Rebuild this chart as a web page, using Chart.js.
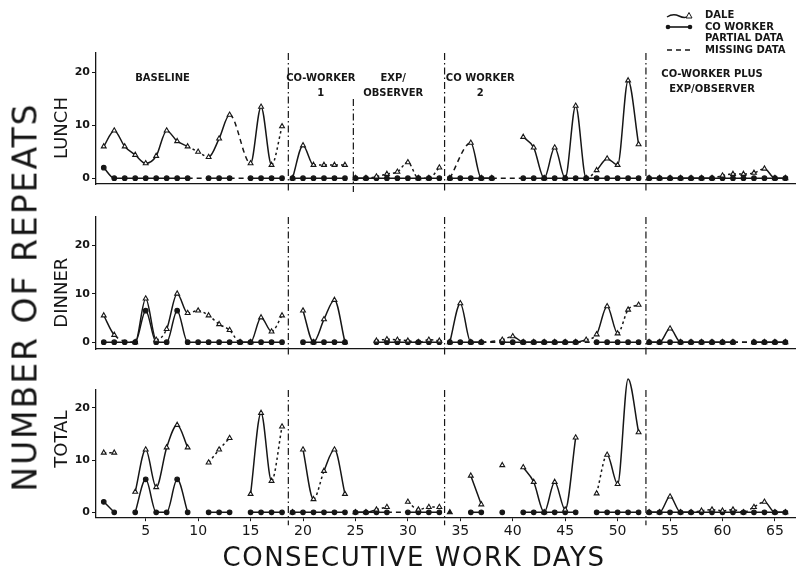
<!DOCTYPE html>
<html>
<head>
<meta charset="utf-8">
<script src="https://cdn.jsdelivr.net/npm/chart.js@4.4.1/dist/chart.umd.min.js"></script>
<style>
  body { margin: 0; background: #fff; }
  #wrap { position: relative; width: 801px; height: 572px; overflow: hidden; font-family: "DejaVu Sans", sans-serif; color: #161616; }
  .panel { position: absolute; left: 0; width: 801px; }
  #ytitle { position: absolute; left: 25px; top: 297px; transform: translate(-50%, -50%) rotate(-90deg); font-size: 33px; letter-spacing: 2px; white-space: nowrap; }
  #xtitle { position: absolute; left: 414px; top: 557px; transform: translate(-50%, -50%); font-size: 26px; letter-spacing: 1.5px; white-space: nowrap; }
  #legend { position: absolute; left: 665px; top: 9px; font-size: 10px; font-weight: bold; line-height: 11.7px; }
  #legend .row { display: flex; align-items: center; height: 11.7px; }
  #legend svg { width: 28px; height: 10px; margin-right: 12px; }
</style>
</head>
<body>
<div id="wrap">
  <div class="panel" style="top:0"><canvas id="lunch" width="801" height="200"></canvas></div>
  <div class="panel" style="top:200px"><canvas id="dinner" width="801" height="170"></canvas></div>
  <div class="panel" style="top:370px"><canvas id="total" width="801" height="202"></canvas></div>
  <div id="ytitle">NUMBER OF REPEATS</div>
  <div id="xtitle">CONSECUTIVE WORK DAYS</div>
  <div id="legend">
    <div class="row"><svg viewBox="0 0 28 10"><path d="M2 7 Q8 3 14 6 T24 6" fill="none" stroke="#161616" stroke-width="1.4"/><polygon points="24,2.5 27,8 21,8" fill="#fff" stroke="#161616" stroke-width="1"/></svg>DALE</div>
    <div class="row"><svg viewBox="0 0 28 10"><line x1="3" y1="5" x2="25" y2="5" stroke="#161616" stroke-width="1.6"/><circle cx="3" cy="5" r="2.3" fill="#161616"/><circle cx="25" cy="5" r="2.3" fill="#161616"/></svg>CO WORKER</div>
    <div class="row"><svg viewBox="0 0 28 10"></svg>PARTIAL DATA</div>
    <div class="row"><svg viewBox="0 0 28 10"><line x1="2" y1="5" x2="26" y2="5" stroke="#161616" stroke-width="1.6" stroke-dasharray="5 4"/></svg>MISSING DATA</div>
  </div>
</div>
<script>
const INK = '#161616';

const days = [1, 2, 3, 4, 5, 6, 7, 8, 9, 10, 11, 12, 13, 14, 15, 16, 17, 18, 19, 20,
  21, 22, 23, 24, 25, 26, 27, 28, 29, 30, 31, 32, 33, 34, 35, 36, 37, 38, 39, 40,
  41, 42, 43, 44, 45, 46, 47, 48, 49, 50, 51, 52, 53, 54, 55, 56, 57, 58, 59, 60,
  61, 62, 63, 64, 65, 66];
const dayTicks = [5, 10, 15, 20, 25, 30, 35, 40, 45, 50, 55, 60, 65];
const countTicks = [0, 10, 20];

// phase changes fall between work days
const phaseBreaks = [18.6, 24.8, 33.5, 52.7];
const phaseNames = [['BASELINE'], ['CO-WORKER', '1'], ['EXP/', 'OBSERVER'], ['CO WORKER', '2'], ['CO-WORKER PLUS', 'EXP/OBSERVER']];
const phaseNameDays = [6.6, 21.7, 28.6, 36.9, 59];

// null = no observation that day
const lunchDale = [6, 9, 6, 4.4, 2.8, 4.2, 9, 7, 6, 5,
  4, 7.5, 12, null, 2.8, 13.5, 2.5, 9.8, 0, 6.2,
  2.5, 2.5, 2.5, 2.5, 0, 0, 0.3, 0.8, 1.2, 3,
  0, 0, 2, 0, null, 6.7, 0, 0, null, null,
  7.8, 5.8, 0, 5.8, 0, 13.7, 0, 1.5, 3.7, 2.5,
  18.5, 6.4, 0, 0, 0, 0, 0, 0, 0, 0.5,
  0.8, 0.8, 1, 1.8, 0, 0];
const lunchCo = [2, 0, 0, 0, 0, 0, 0, 0, 0, null,
  0, 0, 0, null, 0, 0, 0, 0, 0, 0,
  0, 0, 0, 0, 0, 0, 0, 0, 0, 0,
  0, 0, 0, 0, 0, 0, 0, 0, null, null,
  0, 0, 0, 0, 0, 0, 0, 0, 0, 0,
  0, 0, 0, 0, 0, 0, 0, 0, 0, 0,
  0, 0, 0, 0, 0, 0];
const lunchDalePartial = [9, 10, 17, 21, 22, 23, 26, 27, 28, 29, 30, 31, 32, 47, 59, 60, 61, 62, 63];
const lunchDaleGaps = [38];

const dinnerDale = [5.5, 1.5, null, 0, 9, 0.5, 2.7, 10, 6, 6.5,
  5.5, 3.7, 2.5, 0, 0, 5.1, 2.2, 5.5, null, 6.5,
  0, 4.7, 8.7, 0, null, null, 0.3, 0.6, 0.5, 0.3,
  0, 0.5, 0.3, 0, 8, 0, 0, null, 0.5, 1.2,
  0, 0, 0, 0, 0, 0, 0.5, 1.6, 7.4, 1.8,
  6.7, 7.7, 0, 0, 2.8, 0, 0, 0, 0, 0,
  0, null, 0, 0, 0, 0];
const dinnerCo = [0, 0, 0, 0, 6.5, 0, 0, 6.5, 0, 0,
  0, 0, 0, 0, 0, 0, 0, 0, null, 0,
  0, 0, 0, 0, null, null, 0, 0, 0, 0,
  0, 0, 0, 0, 0, 0, 0, null, 0, 0,
  0, 0, 0, 0, 0, 0, null, 0, 0, 0,
  0, 0, 0, 0, 0, 0, 0, 0, 0, 0,
  0, null, 0, 0, 0, 0];
const dinnerDalePartial = [6, 9, 10, 11, 12, 13, 17, 27, 28, 29, 30, 31, 32, 39, 47, 50, 51];

const totalDale = [11.4, 11.4, null, 3.9, 12, 4.8, 12.4, 16.7, 12.4, null,
  9.5, 12, 14.2, null, 3.5, 19, 6, 16.4, 0, 12,
  2.5, 7.9, 12, 3.5, 0, 0, 0.5, 1, null, 2,
  0.5, 1, 1, 0, null, 7, 1.5, null, 9, null,
  8.6, 5.8, 0, 5.8, 0.5, 14.3, null, 3.6, 11, 5.4,
  25.5, 15.3, 0, 0, 3, 0, 0, 0.3, 0.5, 0.3,
  0.5, 0, 1, 2, 0, 0];
const totalCo = [2, 0, null, 0, 6.3, 0, 0, 6.3, 0, null,
  0, 0, 0, null, 0, 0, 0, 0, 0, 0,
  0, 0, 0, 0, 0, 0, 0, 0, null, 0,
  0, 0, 0, null, null, 0, 0, null, 0, null,
  0, 0, 0, 0, 0, 0, null, 0, 0, 0,
  0, 0, 0, 0, 0, 0, 0, 0, 0, 0,
  0, 0, 0, 0, 0, 0];
const totalDalePartial = [1, 11, 12, 17, 21, 27, 30, 31, 32, 48, 57, 58, 59, 60, 61, 62, 63];
const totalDaleGaps = [2, 9, 13, 19, 28, 34, 37, 39, 46];
const totalCoGaps = [2, 9, 13, 37, 39, 46];

Chart.defaults.font.family = '"DejaVu Sans", sans-serif';
Chart.defaults.color = INK;

// split a series into unbroken runs: a new run starts after a gap day or at a phase change
function runs(values, gaps) {
  const pts = days.map((d, i) => ({ x: d, y: values[i] })).filter(p => p.y !== null);
  const out = [[]];
  pts.forEach((p, k) => {
    const prev = pts[k - 1];
    if (prev && (gaps.includes(prev.x) || phaseBreaks.some(b => prev.x < b && b < p.x))) out.push([]);
    out[out.length - 1].push(p);
  });
  return out;
}

function series(label, values, partial, gaps, style, r) {
  return runs(values, gaps).map(run => ({
    label,
    data: run,
    borderColor: INK,
    borderWidth: 1.5,
    pointStyle: style,
    pointRadius: r,
    pointBorderWidth: 1.1,
    pointBorderColor: INK,
    pointBackgroundColor: c => (style === 'circle' || (c.raw && c.raw.y === 0)) ? INK : '#fff',
    cubicInterpolationMode: 'monotone',
    clip: false,
    segment: {
      borderDash: c => {
        const a = c.p0.parsed.x, b = c.p1.parsed.x;
        if (b - a > 1) return [5, 4];   // missing day bridged
        if (partial.includes(a)) return [2.5, 3];
        return [];
      }
    }
  }));
}

const panelPlugin = {
  id: 'panel',
  afterDatasetsDraw(chart, args, opts) {
    const { ctx, chartArea: area, scales: { x, y } } = chart;
    ctx.save();
    ctx.strokeStyle = INK;
    ctx.lineWidth = 1.2;
    ctx.setLineDash([7, 3, 1.5, 3]);
    opts.lines.forEach(([i, from]) => {
      const px = x.getPixelForValue(phaseBreaks[i]);
      ctx.beginPath();
      ctx.moveTo(px, from == null ? area.top : y.getPixelForValue(from));
      ctx.lineTo(px, area.bottom + 8);
      ctx.stroke();
    });
    ctx.setLineDash([]);
    ctx.fillStyle = INK;
    ctx.textAlign = 'center';
    ctx.textBaseline = 'middle';
    if (opts.names) {
      ctx.font = 'bold 10px "DejaVu Sans"';
      phaseNames.forEach((lines, i) => {
        const px = x.getPixelForValue(phaseNameDays[i]);
        const top = i === 4 ? 74 : 78;
        lines.forEach((t, k) => ctx.fillText(t, px, top + k * 15));
      });
    }
    ctx.font = '18px "DejaVu Sans"';
    ctx.translate(62, y.getPixelForValue(opts.titleAt));
    ctx.rotate(-Math.PI / 2);
    ctx.fillText(opts.title, 0, 0);
    ctx.restore();
  }
};

function makePanel(id, p) {
  return new Chart(document.getElementById(id), {
    type: 'line',
    data: {
      datasets: [
        ...series('DALE', p.dale, p.dalePartial, p.daleGaps, 'triangle', 2.8),
        ...series('CO WORKER', p.co, [], p.coGaps, 'circle', 2.3)
      ]
    },
    options: {
      responsive: false,
      animation: false,
      events: [],
      layout: { padding: { top: p.padTop, bottom: p.padBottom, left: 0, right: 0 } },
      plugins: {
        legend: { display: false },
        tooltip: { enabled: false },
        panel: { lines: p.lines, names: p.names, title: p.title, titleAt: p.titleAt }
      },
      scales: {
        x: {
          type: 'linear', min: 0.26, max: 67,
          afterBuildTicks: s => { s.ticks = dayTicks.map(v => ({ value: v })); },
          grid: { display: p.showDays, drawOnChartArea: false, tickLength: 4, color: INK },
          ticks: { display: p.showDays, padding: 2, font: { size: 14 }, color: INK, maxRotation: 0, autoSkip: false },
          border: { display: true, color: INK, width: 1.3, dash: [8, 3] }
        },
        y: {
          min: p.min, max: p.max,
          afterBuildTicks: s => { s.ticks = countTicks.map(v => ({ value: v })); },
          afterFit: s => { s.width = 96; },
          grid: { drawOnChartArea: false, tickLength: 4, color: INK },
          ticks: { padding: 2, font: { size: 11, weight: 'bold' }, color: INK },
          border: { color: INK, width: 1.3, dash: [5, 2] }
        }
      }
    },
    plugins: [panelPlugin]
  });
}

makePanel('lunch', {
  dale: lunchDale, co: lunchCo, dalePartial: lunchDalePartial, daleGaps: lunchDaleGaps, coGaps: [],
  min: -1.1, max: 23.7, padTop: 53, padBottom: 12, showDays: false,
  lines: [[0, null], [1, 15], [2, null], [3, null]], names: true, title: 'LUNCH', titleAt: 9.5
});
makePanel('dinner', {
  dale: dinnerDale, co: dinnerCo, dalePartial: dinnerDalePartial, daleGaps: [], coGaps: [],
  min: -1.4, max: 25.8, padTop: 17, padBottom: 17, showDays: false,
  lines: [[0, null], [2, null], [3, null]], names: false, title: 'DINNER', titleAt: 10.2
});
makePanel('total', {
  dale: totalDale, co: totalCo, dalePartial: totalDalePartial, daleGaps: totalDaleGaps, coGaps: totalCoGaps,
  min: -0.94, max: 23.4, padTop: 20, padBottom: 30, showDays: true,
  lines: [[0, null], [2, null], [3, null]], names: false, title: 'TOTAL', titleAt: 14
});
</script>
</body>
</html>
